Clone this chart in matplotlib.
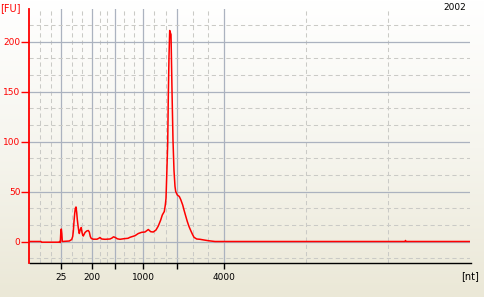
import numpy as np
import matplotlib
matplotlib.use("Agg")
import matplotlib.pyplot as plt
from matplotlib.colors import LinearSegmentedColormap

# electroferograma: tiempo de migracion [s] y fluorescencia [FU]
tiempo = [19.95, 21.10, 21.15, 22.90, 22.95, 23.03, 23.08, 23.13, 23.18, 23.23,
          23.93, 24.17, 24.27, 24.33, 24.40, 24.47, 24.53, 24.60, 24.67, 24.73,
          24.80, 24.87, 24.93, 25.00, 25.07, 25.13, 25.20, 25.27, 25.33, 25.40,
          25.50, 25.67, 25.83, 25.93, 26.03, 26.13, 26.33, 26.70, 26.90, 27.00,
          27.17, 27.50, 28.00, 28.20, 28.35, 28.53, 28.73, 29.00, 29.40, 29.80,
          30.00, 30.50, 30.83, 31.17, 31.50, 31.83, 32.07, 32.33, 32.60, 32.83,
          33.07, 33.23, 33.43, 33.53, 33.60, 33.67, 33.77, 33.83, 33.90, 33.97,
          34.03, 34.10, 34.13, 34.20, 34.30, 34.40, 34.50, 34.57, 34.73, 34.93,
          35.07, 35.27, 35.40, 35.57, 35.73, 35.90, 36.07, 36.23, 36.40, 36.67,
          37.00, 37.40, 37.83, 38.50, 47.00, 57.50, 57.55, 57.60, 64.05]
fluorescencia = [0, 0, -0.7, -0.7, 0, -1, 9, 12.5, 8, 0,
                 0.5, 2, 5, 10, 20, 28, 33, 34.5, 29, 22,
                 16, 11, 8, 11, 13, 14, 9, 6.5, 5.5, 7,
                 9, 10.5, 11, 9.5, 5, 3, 2.3, 2.3, 3.3, 4,
                 2.5, 2.2, 2.5, 3.5, 4.7, 4, 2.7, 2.2, 2.8, 3.2,
                 4.2, 5.8, 8, 9.2, 9.5, 12, 9.8, 9.5, 11.5, 15.5,
                 21.5, 26.5, 30, 36.5, 43, 65, 98, 145, 185, 211,
                 209, 207, 191, 151, 101, 71, 55, 50, 46.5, 45,
                 42, 36.5, 31.5, 25.5, 20, 15, 11, 7.5, 4.2, 2.5,
                 2.2, 1.5, 0.8, 0, 0, 0, 1, 0, 0]

# marcador de tamanos (ladder)
ladder_nt = [25, 200, 500, 1000, 2000, 4000, 6000]
ladder_tiempo = [23.13, 26.23, 28.50, 31.33, 34.67, 39.43, 64.05]
ladder_etiquetas = ["25", "200", "", "1000", "", "4000", ""]

muestra = "2002"

x_min = 19.95
y_min, y_max = -21.5, 232.5

rojo = "#FF0000"
gris_solido = "#ABB2BF"
gris_punteado = "#CACAC6"
fuente = "DejaVu Sans"
tam = 6.5

fig = plt.figure(figsize=(4.85, 2.97), dpi=100)

# fondo degradado blanco -> beige
fondo = fig.add_axes([0, 0, 1, 1], zorder=-1)
cmap = LinearSegmentedColormap.from_list("fondo", ["#FFFFFF", "#F6F5EE", "#EBE8D7"])
fondo.imshow(np.linspace(0, 1, 256).reshape(-1, 1), aspect="auto", cmap=cmap,
             extent=[0, 1, 0, 1])
fondo.axis("off")

ax = fig.add_axes([29.5 / 485, 34 / 297, 441 / 485, 254 / 297])
ax.set_facecolor("none")

ax.plot(tiempo, fluorescencia, color=rojo, linewidth=1.1, zorder=3)

ax.set_xlim(x_min, ladder_tiempo[-1])
ax.set_ylim(y_min, y_max)

# grilla vertical: lineas del ladder y tercios entre ellas
bordes = [x_min] + ladder_tiempo
menores_x = []
for a, b in zip(bordes[:-1], bordes[1:]):
    menores_x += [a + (b - a) / 3, a + 2 * (b - a) / 3]
ax.set_xticks(ladder_tiempo[:-1])
ax.set_xticklabels(ladder_etiquetas[:-1])
ax.set_xticks(menores_x, minor=True)

ax.set_yticks([0, 50, 100, 150, 200])
menores_y = [v + d for v in [-50, 0, 50, 100, 150, 200] for d in (50 / 3, 100 / 3)]
ax.set_yticks([v for v in menores_y if y_min < v < y_max], minor=True)

ax.set_axisbelow(True)
ax.grid(which="major", color=gris_solido, linewidth=0.9, linestyle="-")
ax.grid(which="minor", color=gris_punteado, linewidth=0.75, linestyle=(0, (4, 3)))

ax.tick_params(which="minor", length=0)
ax.tick_params(axis="y", which="major", colors=rojo, length=6, width=1,
               pad=0.5, labelsize=tam)
ax.tick_params(axis="x", which="major", colors="black", length=4, width=1,
               pad=3.5, labelsize=tam)
for etiqueta in ax.get_xticklabels() + ax.get_yticklabels():
    etiqueta.set_fontfamily(fuente)

for lado in ["top", "right"]:
    ax.spines[lado].set_visible(False)
ax.spines["left"].set_color(rojo)
ax.spines["left"].set_linewidth(1.3)
ax.spines["bottom"].set_color("black")
ax.spines["bottom"].set_linewidth(1.0)

fig.text(0 / 485, 1 - 3.5 / 297, "[FU]", color=rojo, fontsize=tam + 0.5,
         fontfamily=fuente, ha="left", va="top")
fig.text(466.5 / 485, 1 - 2.5 / 297, muestra, color="black", fontsize=tam,
         fontfamily=fuente, ha="right", va="top")
fig.text(479.5 / 485, 1 - 271.5 / 297, "[nt]", color="black", fontsize=tam + 0.5,
         fontfamily=fuente, ha="right", va="top")

fig.savefig("out.png", dpi=100)
